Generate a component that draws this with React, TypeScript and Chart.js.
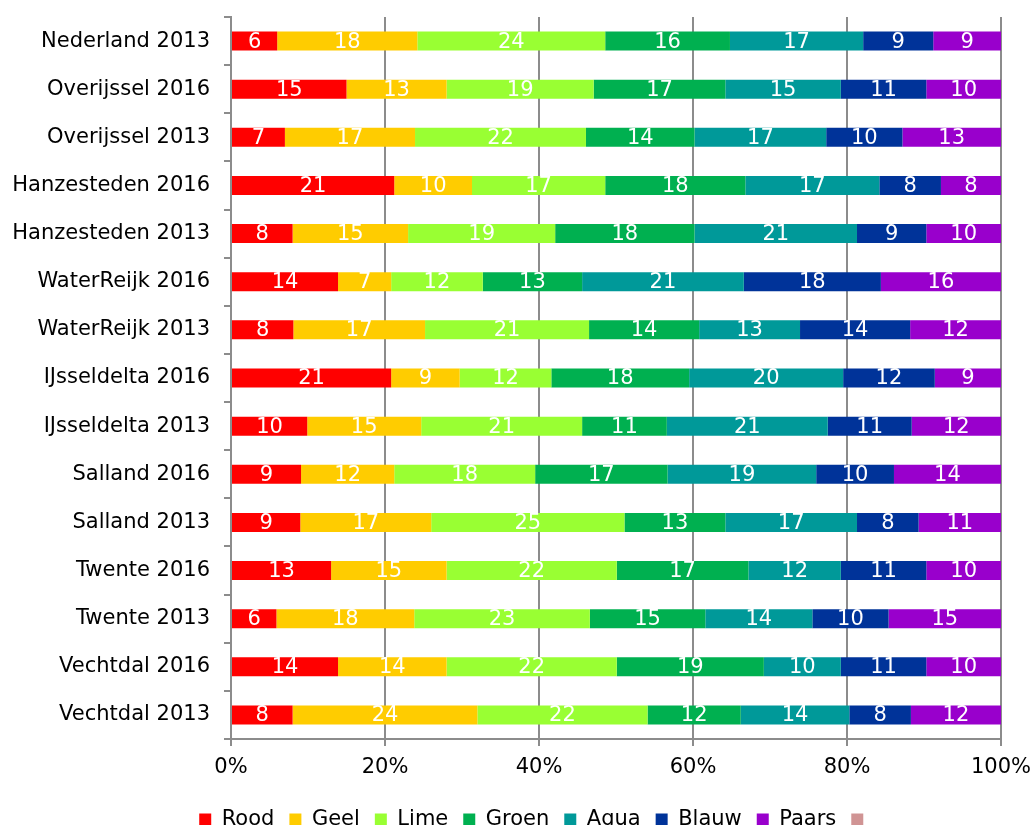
import React, { useEffect, useRef } from "react";
import { Chart, registerables } from "chart.js";

Chart.register(...registerables);

const categories = [
  "Nederland 2013",
  "Overijssel 2016",
  "Overijssel 2013",
  "Hanzesteden 2016",
  "Hanzesteden 2013",
  "WaterReijk 2016",
  "WaterReijk 2013",
  "IJsseldelta 2016",
  "IJsseldelta 2013",
  "Salland 2016",
  "Salland 2013",
  "Twente 2016",
  "Twente 2013",
  "Vechtdal 2016",
  "Vechtdal 2013",
];

const rood = [6.0, 15.0, 7.0, 21.2, 8.0, 13.9, 8.1, 20.8, 9.9, 9.1, 9.0, 13.0, 5.9, 13.9, 8.0];
const geel = [18.2, 13.0, 16.9, 10.1, 15.0, 6.9, 17.1, 8.9, 14.8, 12.1, 17.0, 15.0, 17.9, 14.1, 24.0];
const lime = [24.4, 19.1, 22.2, 17.3, 19.1, 11.9, 21.3, 11.9, 20.9, 18.3, 25.1, 22.1, 22.8, 22.1, 22.1];
const groen = [16.2, 17.1, 14.1, 18.2, 18.1, 12.9, 14.3, 17.9, 11.0, 17.2, 13.1, 17.1, 15.0, 19.1, 12.1];
const aqua = [17.3, 15.0, 17.1, 17.4, 21.1, 21.0, 13.1, 20.0, 20.9, 19.3, 17.1, 12.0, 13.9, 10.0, 14.1];
const blauw = [9.1, 11.1, 9.9, 8.0, 9.0, 17.8, 14.3, 11.9, 10.9, 10.1, 8.0, 11.1, 9.9, 11.1, 8.0];
const paars = [8.8, 9.7, 12.8, 7.8, 9.7, 15.6, 11.8, 8.6, 11.6, 13.9, 10.7, 9.7, 14.6, 9.7, 11.7];

const seriesNames = ["Rood", "Geel", "Lime", "Groen", "Agua", "Blauw", "Paars", ""];
const seriesColors = ["#FF0000", "#FFCC00", "#99FF33", "#00B050", "#009999", "#003399", "#9900CC", "#D09494"];
const xTickLabels = ["0%", "20%", "40%", "60%", "80%", "100%"];

const FONT = "'DejaVu Sans', Verdana, sans-serif";
const FS = 21;

export default function App() {
  const ref = useRef<HTMLCanvasElement>(null);

  useEffect(() => {
    const raw = [rood, geel, lime, groen, aqua, blauw, paars];
    const totals = categories.map((_, i) => raw.reduce((s, arr) => s + arr[i], 0));
    const datasets: any[] = raw.map((arr, k) => ({
      label: seriesNames[k],
      data: arr.map((v, i) => (v / totals[i]) * 100),
      rawValues: arr,
      backgroundColor: seriesColors[k],
      borderWidth: 0,
      categoryPercentage: 1,
      barPercentage: 0.395,
    }));
    datasets.push({
      label: seriesNames[7],
      data: [],
      rawValues: [],
      backgroundColor: seriesColors[7],
      borderWidth: 0,
    });

    const labelPlugin = {
      id: "segLabels",
      afterDatasetsDraw(chart: any) {
        const ctx = chart.ctx;
        ctx.save();
        ctx.fillStyle = "#FFFFFF";
        ctx.font = `${FS}px ${FONT}`;
        ctx.textAlign = "center";
        ctx.textBaseline = "middle";
        chart.data.datasets.forEach((ds: any, i: number) => {
          const meta = chart.getDatasetMeta(i);
          meta.data.forEach((el: any, j: number) => {
            const v = ds.rawValues[j];
            if (v === undefined) return;
            const p = el.getCenterPoint();
            ctx.fillText(String(Math.round(v)), p.x, p.y + 1);
          });
        });
        ctx.restore();
      },
    };

    const legendShift = {
      id: "legendShift",
      afterLayout(chart: any) {
        if (chart.legend) {
          chart.legend.left += 36;
          chart.legend.right += 36;
        }
      },
    };

    const chart = new Chart(ref.current!, {
      type: "bar",
      data: { labels: categories, datasets },
      plugins: [labelPlugin, legendShift],
      options: {
        indexAxis: "y",
        responsive: false,
        animation: false,
        devicePixelRatio: 1,
        layout: { padding: { top: 17, right: 34, left: 0, bottom: 0 } },
        scales: {
          x: {
            stacked: true,
            min: 0,
            max: 100,
            afterFit(scale: any) {
              scale.height = 55;
              scale.paddingLeft = 0;
              scale.paddingRight = 0;
            },
            ticks: {
              stepSize: 20,
              color: "#000000",
              padding: 9,
              maxRotation: 0,
              font: { family: FONT, size: FS },
              callback: (_v: any, idx: number) => xTickLabels[idx],
            },
            grid: {
              color: "#8C8C8C",
              lineWidth: 2,
              drawTicks: true,
              tickLength: 7,
            },
            border: { display: true, color: "#8C8C8C", width: 2 },
          },
          y: {
            stacked: true,
            afterFit(scale: any) {
              scale.width = 231;
              scale.paddingTop = 0;
              scale.paddingBottom = 0;
            },
            ticks: {
              color: "#000000",
              padding: 14,
              font: { family: FONT, size: FS },
            },
            grid: {
              drawOnChartArea: false,
              drawTicks: true,
              tickLength: 7,
              color: "#8C8C8C",
              lineWidth: 2,
            },
            border: { display: true, color: "#8C8C8C", width: 2 },
          },
        },
        plugins: {
          tooltip: { enabled: false },
          legend: {
            position: "bottom",
            labels: {
              boxWidth: 12,
              boxHeight: 12,
              padding: 15,
              color: "#000000",
              font: { family: FONT, size: FS },
            },
          },
        },
      } as any,
    });
    return () => chart.destroy();
  }, []);

  return (
    <div style={{ position: "absolute", left: 0, top: 0, width: 1035, height: 840, overflow: "hidden" }}>
      <canvas ref={ref} width={1035} height={840} />
    </div>
  );
}
